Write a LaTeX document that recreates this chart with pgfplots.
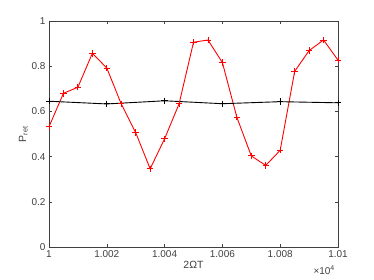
\documentclass[border=0pt]{standalone}
\usepackage{fontspec}
\setmainfont{Liberation Sans}
\usepackage{pgfplots}
\pgfplotsset{compat=1.18}
\definecolor{axgray}{HTML}{404040}

\begin{document}
\begin{tikzpicture}
\begin{axis}[
  scale only axis,
  width=289bp, height=226bp,
  xmin=10000, xmax=10100, ymin=0, ymax=1,
  scaled x ticks=false, scaled y ticks=false,
  xtick={10000,10020,10040,10060,10080,10100},
  xticklabels={1,1.002,1.004,1.006,1.008,1.01},
  ytick={0,0.2,0.4,0.6,0.8,1},
  yticklabels={0,0.2,0.4,0.6,0.8,1},
  tick align=inside,
  major tick length=3bp,
  axis line style={axgray, line width=0.5pt},
  every tick/.style={axgray, line width=0.5pt},
  tick label style={font=\fontsize{10}{12}\selectfont, text=axgray},
  xlabel={2ΩT},
  ylabel={P\textsubscript{ret}},
  xlabel style={font=\fontsize{10.5}{12}\selectfont, text=axgray, yshift=3bp},
  ylabel style={font=\fontsize{10.5}{12}\selectfont, text=axgray, yshift=-3bp},
  clip=false,
]
\addplot[red, line width=0.9pt, mark=+, mark size=3.2bp, mark options={line width=0.9pt}] coordinates {
(10000,0.532)(10005,0.680)(10010,0.707)(10015,0.857)(10020,0.792)
(10025,0.633)(10030,0.506)(10035,0.346)(10040,0.479)(10045,0.633)
(10050,0.906)(10055,0.916)(10060,0.816)(10065,0.574)(10070,0.403)
(10075,0.361)(10080,0.428)(10085,0.777)(10090,0.869)(10095,0.916)
(10100,0.827)};
\addplot[black, line width=0.9pt, mark=+, mark size=3.2bp, mark options={line width=0.9pt}] coordinates {
(10000,0.645)(10020,0.633)(10040,0.647)(10060,0.634)(10080,0.643)(10100,0.638)};
\node[anchor=north east, font=\fontsize{10}{12}\selectfont, text=axgray, inner sep=0pt]
  at ([xshift=-3bp,yshift=-19bp]rel axis cs:1,0) {×10\textsuperscript{4}};
\path ([xshift=-49bp,yshift=-33bp]rel axis cs:0,0) rectangle ([xshift=36bp,yshift=21bp]rel axis cs:1,1);
\end{axis}
\end{tikzpicture}
\end{document}
